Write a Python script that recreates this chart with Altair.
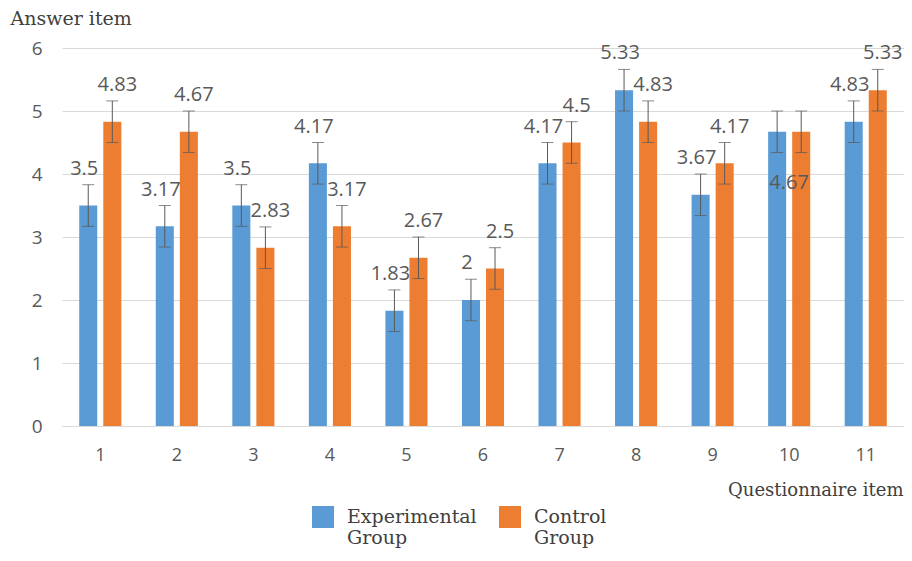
import altair as alt
import pandas as pd

items = ["1", "2", "3", "4", "5", "6", "7", "8", "9", "10", "11"]
groups = ["Experimental Group", "Control Group"]
exp_vals = [3.5, 3.17, 3.5, 4.17, 1.83, 2, 4.17, 5.33, 3.67, 4.67, 4.83]
ctrl_vals = [4.83, 4.67, 2.83, 3.17, 2.67, 2.5, 4.5, 4.83, 4.17, 4.67, 5.33]
exp_err = [0.33, 0.33, 0.33, 0.33, 0.33, 0.33, 0.33, 0.33, 0.33, 0.33, 0.33]
ctrl_err = [0.33, 0.33, 0.33, 0.33, 0.33, 0.33, 0.33, 0.33, 0.33, 0.33, 0.33]

rows = []
for g, vals, errs, other in [(groups[0], exp_vals, exp_err, ctrl_vals),
                             (groups[1], ctrl_vals, ctrl_err, exp_vals)]:
    for it, v, e, o in zip(items, vals, errs, other):
        rows.append({"Item": it, "Group": g, "Value": v, "lo": v - e, "hi": v + e,
                     "Label": f"{v:g}", "Tie": v == o})
df = pd.DataFrame(rows)

TXT = "#595959"
SANS = "Open Sans"
SERIF = "DejaVu Serif"

x_enc = alt.X("Item:O", sort=items,
              scale=alt.Scale(paddingInner=0.45, paddingOuter=0.225),
              axis=alt.Axis(title="Questionnaire item", labelAngle=0, ticks=False,
                            domainColor="#d9d9d9", labelFont=SANS, labelFontSize=18,
                            labelColor=TXT, labelPadding=20,
                            titleFont=SERIF, titleFontSize=18, titleFontWeight="normal",
                            titleColor="#404040", titleAnchor="end", titleAlign="right",
                            titleX=841, titleY=64, titleBaseline="middle"))
xo_enc = alt.XOffset("Group:N", sort=groups, scale=alt.Scale(paddingInner=0.25))
y_scale = alt.Scale(domain=[0, 6])

base = alt.Chart(df).encode(x=x_enc, xOffset=xo_enc)

legend = alt.Legend(
    title=None, orient="none", direction="horizontal", legendX=250, legendY=458,
    symbolType="square", symbolSize=484, symbolStrokeWidth=0, symbolOpacity=1,
    labelFont=SERIF, labelFontSize=19, labelColor="#404040",
    labelOffset=13, columnPadding=22, labelLimit=300,
    labelExpr="datum.label == 'Experimental Group' ? ['Experimental', 'Group'] : ['Control', 'Group']",
)

bars = base.mark_bar().encode(
    y=alt.Y("Value:Q", scale=y_scale,
            axis=alt.Axis(values=[0, 1, 2, 3, 4, 5, 6], format="d", title="Answer item",
                          domain=False, ticks=False, gridColor="#d9d9d9", labelFont=SANS,
                          labelFontSize=19, labelColor=TXT, labelPadding=20,
                          titleFont=SERIF, titleFontSize=19, titleFontWeight="normal",
                          titleColor="#404040", titleAngle=0, titleAlign="left",
                          titleBaseline="middle", titleX=-52, titleY=-30)),
    color=alt.Color("Group:N", sort=groups,
                    scale=alt.Scale(domain=groups, range=["#5B9BD5", "#ED7D31"]),
                    legend=legend),
)

rules = base.mark_rule(color="#595959", strokeWidth=1).encode(
    y=alt.Y("lo:Q", scale=y_scale), y2="hi:Q")
caps_hi = base.mark_tick(color="#595959", thickness=1, size=12).encode(
    y=alt.Y("hi:Q", scale=y_scale))
caps_lo = base.mark_tick(color="#595959", thickness=1, size=12).encode(
    y=alt.Y("lo:Q", scale=y_scale))

txt_exp = base.transform_filter((alt.datum.Group == groups[0]) & (~alt.datum.Tie)).mark_text(
    dy=-16, dx=-4, font=SANS, fontSize=20, color=TXT).encode(
    y=alt.Y("hi:Q", scale=y_scale), text="Label:N")
txt_exp_tie = base.transform_filter((alt.datum.Group == groups[0]) & alt.datum.Tie).mark_text(
    dy=30, dx=12, font=SANS, fontSize=20, color=TXT).encode(
    y=alt.Y("lo:Q", scale=y_scale), text="Label:N")
txt_ctrl = base.transform_filter((alt.datum.Group == groups[1]) & (~alt.datum.Tie)).mark_text(
    dy=-16, dx=5, font=SANS, fontSize=20, color=TXT).encode(
    y=alt.Y("hi:Q", scale=y_scale), text="Label:N")

chart = alt.layer(bars, rules, caps_hi, caps_lo,
                  txt_exp, txt_exp_tie, txt_ctrl).properties(
    width=842, height=378,
    autosize=alt.AutoSizeParams(type="none"),
    padding={"left": 54, "top": 40, "right": 0, "bottom": 127},
).configure_view(stroke=None)

chart.save("out.html", embed_options={"renderer": "svg", "actions": False})
